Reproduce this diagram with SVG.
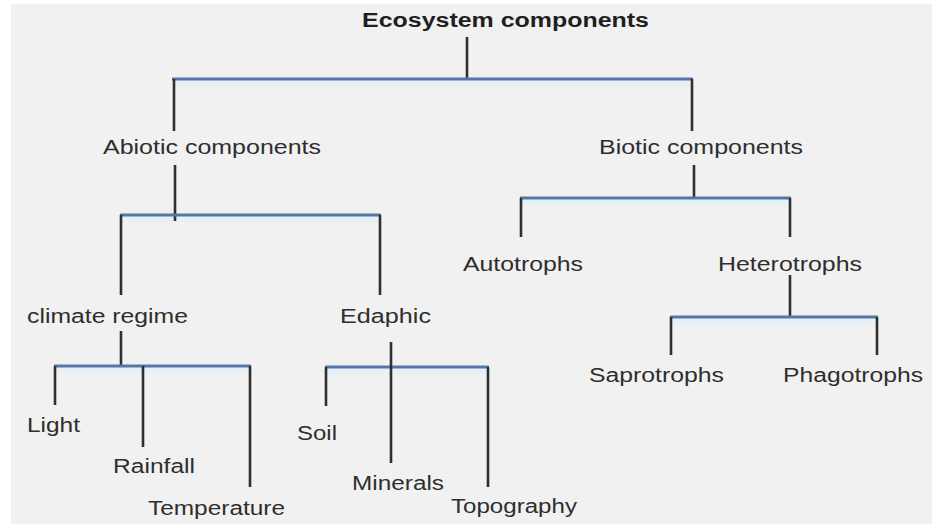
<svg xmlns="http://www.w3.org/2000/svg" width="932" height="527" viewBox="0 0 932 527">
  <style>
    .lbl { font-family: "Liberation Sans", Arial, sans-serif; font-size: 19.5px; fill: #2e2e2e; }
    .title { font-weight: bold; fill: #1f1f1f; }
    .stem { stroke: #2f2f2f; stroke-width: 2.6; fill: none; }
    .bar { stroke: #5677a6; stroke-width: 2.8; fill: none; }
    .glow { stroke: #e6f0f8; stroke-width: 8; fill: none; }
  </style>

  <!-- page -->
  <rect x="0" y="0" width="932" height="527" fill="#ffffff"/>
  <rect x="11" y="4" width="921" height="520" fill="#f1f1f1"/>

  <!-- connectors -->
  <g id="connectors">
    <g class="glow">
      <line x1="172" y1="82" x2="692" y2="82"/>
      <line x1="121" y1="218" x2="380" y2="218"/>
      <line x1="521" y1="201" x2="790" y2="201"/>
      <line x1="671" y1="320" x2="877" y2="320"/>
      <line x1="55" y1="369" x2="250" y2="369"/>
      <line x1="326" y1="370" x2="488" y2="370"/>
    </g>
    <!-- Ecosystem components -->
    <line class="stem" x1="467" y1="37" x2="467" y2="79"/>
    <line class="bar" x1="172" y1="79" x2="693" y2="79"/>
    <line class="stem" x1="174" y1="79" x2="174" y2="131"/>
    <line class="stem" x1="692" y1="79" x2="692" y2="131"/>
    <!-- Abiotic -->
    <line class="stem" x1="175" y1="165" x2="175" y2="221"/>
    <line class="bar" x1="120" y1="215" x2="381" y2="215"/>
    <line class="stem" x1="121" y1="215" x2="121" y2="295"/>
    <line class="stem" x1="380" y1="215" x2="380" y2="295"/>
    <!-- Biotic -->
    <line class="stem" x1="694" y1="165" x2="694" y2="199"/>
    <line class="bar" x1="520" y1="198" x2="791" y2="198"/>
    <line class="stem" x1="521" y1="198" x2="521" y2="237"/>
    <line class="stem" x1="790" y1="198" x2="790" y2="237"/>
    <!-- Heterotrophs -->
    <line class="stem" x1="790" y1="275" x2="790" y2="317"/>
    <line class="bar" x1="670" y1="317" x2="878" y2="317"/>
    <line class="stem" x1="671" y1="317" x2="671" y2="355"/>
    <line class="stem" x1="877" y1="317" x2="877" y2="355"/>
    <!-- climate regime -->
    <line class="stem" x1="121" y1="331" x2="121" y2="366"/>
    <line class="bar" x1="54" y1="366" x2="251" y2="366"/>
    <line class="stem" x1="55" y1="366" x2="55" y2="405"/>
    <line class="stem" x1="143" y1="366" x2="143" y2="447"/>
    <line class="stem" x1="250" y1="366" x2="250" y2="487"/>
    <!-- Edaphic -->
    <line class="bar" x1="325" y1="367" x2="489" y2="367"/>
    <line class="stem" x1="391" y1="342" x2="391" y2="463"/>
    <line class="stem" x1="326" y1="367" x2="326" y2="406"/>
    <line class="stem" x1="488" y1="367" x2="488" y2="487"/>
  </g>

  <!-- nodes -->
  <g id="ecosystem"><text class="lbl title" x="362" y="27" textLength="287" lengthAdjust="spacingAndGlyphs">Ecosystem components</text></g>
  <g id="abiotic"><text class="lbl" x="103" y="154" textLength="218" lengthAdjust="spacingAndGlyphs">Abiotic components</text></g>
  <g id="biotic"><text class="lbl" x="599" y="154" textLength="204" lengthAdjust="spacingAndGlyphs">Biotic components</text></g>
  <g id="autotrophs"><text class="lbl" x="463" y="271" textLength="120" lengthAdjust="spacingAndGlyphs">Autotrophs</text></g>
  <g id="heterotrophs"><text class="lbl" x="718" y="271" textLength="144" lengthAdjust="spacingAndGlyphs">Heterotrophs</text></g>
  <g id="climate"><text class="lbl" x="27" y="323" textLength="161" lengthAdjust="spacingAndGlyphs">climate regime</text></g>
  <g id="edaphic"><text class="lbl" x="340" y="323" textLength="91" lengthAdjust="spacingAndGlyphs">Edaphic</text></g>
  <g id="saprotrophs"><text class="lbl" x="589" y="382" textLength="135" lengthAdjust="spacingAndGlyphs">Saprotrophs</text></g>
  <g id="phagotrophs"><text class="lbl" x="783" y="382" textLength="140" lengthAdjust="spacingAndGlyphs">Phagotrophs</text></g>
  <g id="light"><text class="lbl" x="27" y="432" textLength="53" lengthAdjust="spacingAndGlyphs">Light</text></g>
  <g id="rainfall"><text class="lbl" x="113" y="473" textLength="82" lengthAdjust="spacingAndGlyphs">Rainfall</text></g>
  <g id="temperature"><text class="lbl" x="148" y="515" textLength="137" lengthAdjust="spacingAndGlyphs">Temperature</text></g>
  <g id="soil"><text class="lbl" x="297" y="440" textLength="40" lengthAdjust="spacingAndGlyphs">Soil</text></g>
  <g id="minerals"><text class="lbl" x="352" y="490" textLength="92" lengthAdjust="spacingAndGlyphs">Minerals</text></g>
  <g id="topography"><text class="lbl" x="451" y="513" textLength="126" lengthAdjust="spacingAndGlyphs">Topography</text></g>
</svg>
